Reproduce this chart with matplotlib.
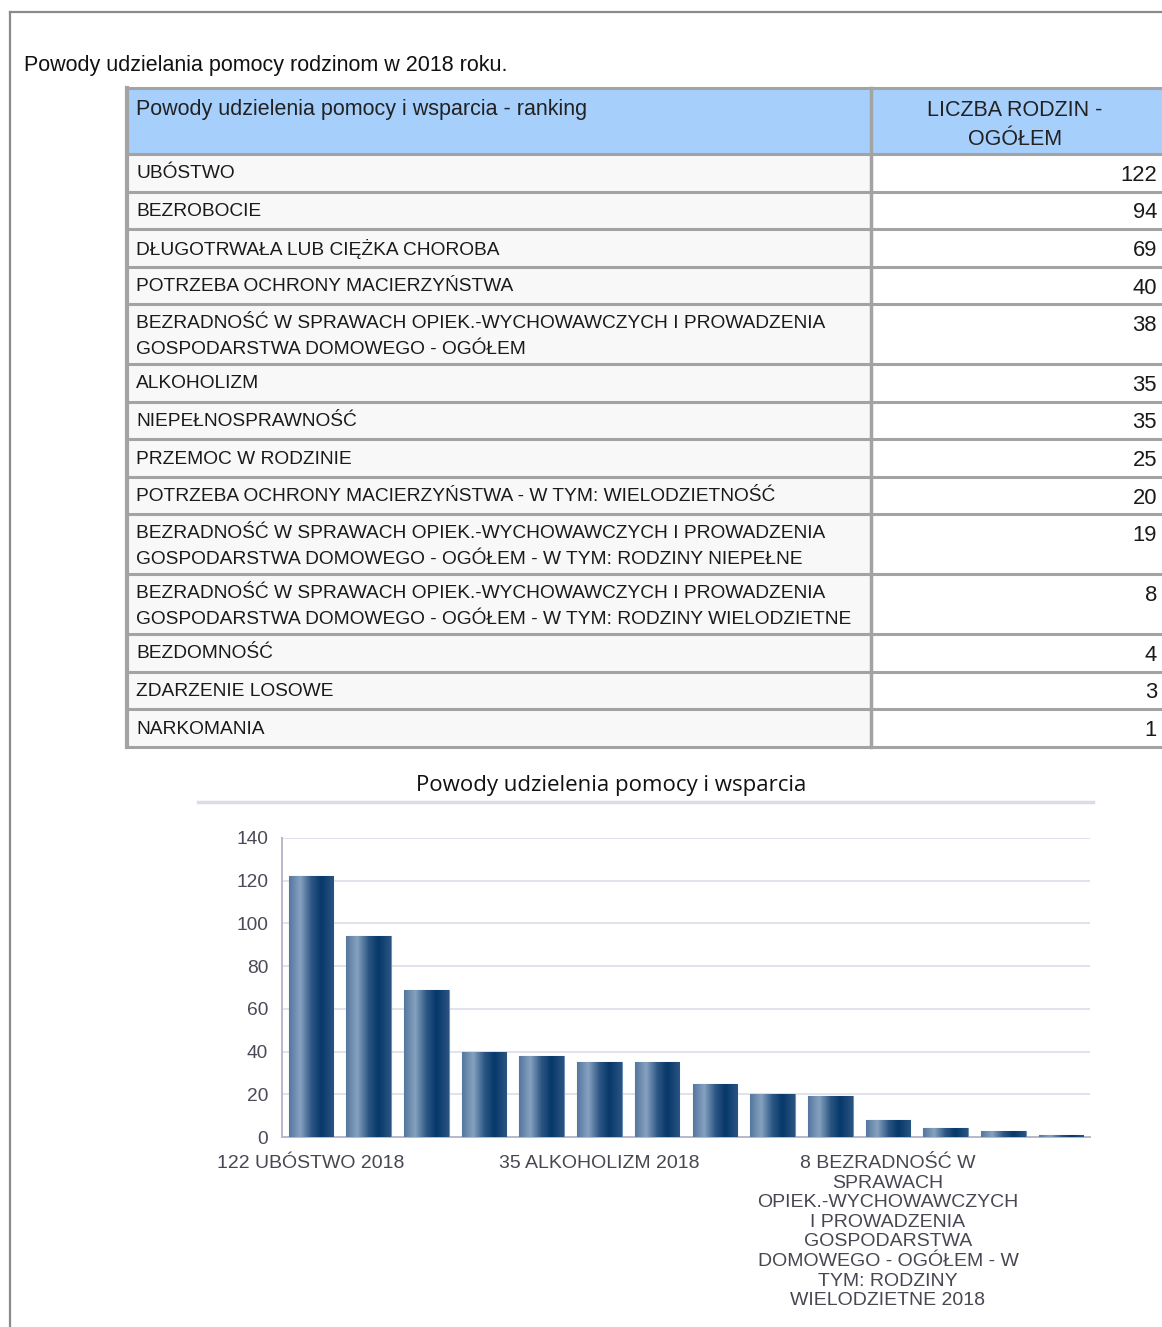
import matplotlib
matplotlib.use('Agg')
import matplotlib.pyplot as plt
import numpy as np
from matplotlib.colors import LinearSegmentedColormap
from matplotlib.patches import Rectangle

plt.rcParams['font.family'] = ['Liberation Sans', 'DejaVu Sans']

# ---- dane ----
PAGE_TITLE = 'Powody udzielania pomocy rodzinom w 2018 roku.'
HEAD_LEFT = 'Powody udzielenia pomocy i wsparcia - ranking'
HEAD_RIGHT = 'LICZBA RODZIN -\nOGÓŁEM'
CHART_TITLE = 'Powody udzielenia pomocy i wsparcia'

row_labels = [
    'UBÓSTWO',
    'BEZROBOCIE',
    'DŁUGOTRWAŁA LUB CIĘŻKA CHOROBA',
    'POTRZEBA OCHRONY MACIERZYŃSTWA',
    'BEZRADNOŚĆ W SPRAWACH OPIEK.-WYCHOWAWCZYCH I PROWADZENIA\nGOSPODARSTWA DOMOWEGO - OGÓŁEM',
    'ALKOHOLIZM',
    'NIEPEŁNOSPRAWNOŚĆ',
    'PRZEMOC W RODZINIE',
    'POTRZEBA OCHRONY MACIERZYŃSTWA - W TYM: WIELODZIETNOŚĆ',
    'BEZRADNOŚĆ W SPRAWACH OPIEK.-WYCHOWAWCZYCH I PROWADZENIA\nGOSPODARSTWA DOMOWEGO - OGÓŁEM - W TYM: RODZINY NIEPEŁNE',
    'BEZRADNOŚĆ W SPRAWACH OPIEK.-WYCHOWAWCZYCH I PROWADZENIA\nGOSPODARSTWA DOMOWEGO - OGÓŁEM - W TYM: RODZINY WIELODZIETNE',
    'BEZDOMNOŚĆ',
    'ZDARZENIE LOSOWE',
    'NARKOMANIA',
]
values = [122, 94, 69, 40, 38, 35, 35, 25, 20, 19, 8, 4, 3, 1]

tick_idx = [0, 5, 10]
tick_labels = [
    '122 UBÓSTWO 2018',
    '35 ALKOHOLIZM 2018',
    '8 BEZRADNOŚĆ W\nSPRAWACH\nOPIEK.-WYCHOWAWCZYCH\nI PROWADZENIA\nGOSPODARSTWA\n'
    'DOMOWEGO - OGÓŁEM - W\nTYM: RODZINY\nWIELODZIETNE 2018',
]
y_ticks = [0, 20, 40, 60, 80, 100, 120, 140]

W, H = 1162, 1327
fig = plt.figure(figsize=(W / 100, H / 100), dpi=100)
page = fig.add_axes([0, 0, 1, 1])
page.set_xlim(0, W)
page.set_ylim(H, 0)
page.axis('off')

# ramka strony
page.plot([10, W], [12, 12], color='#8a8a8a', lw=1.6)
page.plot([10, 10], [12, H], color='#8a8a8a', lw=1.6)

page.text(24, 66, PAGE_TITLE, fontsize=15.5, va='center', ha='left', color='#111111')

# ---- tabela ----
x_l, x_m, x_r = 127, 871, 1175
top = 88
head_h = 66
line_gap = 26
grid_c = '#a3a3a3'

page.add_patch(Rectangle((x_l, top), x_r - x_l, head_h, facecolor='#a6cffc', edgecolor='none'))
page.text(136, top + 22, HEAD_LEFT, fontsize=15.5, va='center', ha='left', color='#222222')
page.text(1015, top + 37, HEAD_RIGHT, fontsize=15.5, va='center', ha='center',
          color='#222222', linespacing=1.45)

y = top + head_h
hlines = [top, y]
for lab, val in zip(row_labels, values):
    n = lab.count('\n') + 1
    h = 37.5 if n == 1 else 60
    page.add_patch(Rectangle((x_l, y), x_m - x_l, h, facecolor='#f8f8f8', edgecolor='none'))
    for k, part in enumerate(lab.split('\n')):
        page.text(136, y + 20 + k * line_gap, part, fontsize=13.8, va='center',
                  ha='left', color='#1a1a1a')
    page.text(1157, y + 21.5, str(val), fontsize=15.8, va='center', ha='right', color='#1a1a1a')
    y += h
    hlines.append(y)

for yy in hlines:
    page.plot([x_l, x_r], [yy, yy], color=grid_c, lw=2.2, solid_capstyle='butt')
page.plot([x_l, x_l], [top, y], color=grid_c, lw=3)
page.plot([x_m, x_m], [top, y], color=grid_c, lw=2.5)

# ---- wykres ----
page.text(611, 786, CHART_TITLE, fontsize=16, family=['Open Sans', 'DejaVu Sans'],
          va='center', ha='center', color='#111111')
page.plot([198, 1093], [802, 802], color='#dcdce6', lw=2.5)

ax_l, ax_r, ax_t, ax_b = 282, 1090, 838, 1137
ax = fig.add_axes([ax_l / W, 1 - ax_b / H, (ax_r - ax_l) / W, (ax_b - ax_t) / H])
ax.set_facecolor('none')

cmap = LinearSegmentedColormap.from_list('bar', [
    (0.0, '#54769e'), (0.25, '#87a2c0'), (0.5, '#2c5784'),
    (0.72, '#063869'), (1.0, '#2a5482')])

x = np.arange(len(values))
bars = ax.bar(x, values, width=0.77, color='#1d4a7a', edgecolor='#6f8fb3',
              linewidth=0.8, zorder=3)
grad = np.linspace(0, 1, 256).reshape(1, -1)
for b in bars:
    im = ax.imshow(grad, extent=[b.get_x(), b.get_x() + b.get_width(), 0, b.get_height()],
                   aspect='auto', cmap=cmap, zorder=3.5, interpolation='bicubic')
    im.set_clip_path(b)

ax.set_xlim(-0.5, len(values) - 0.5)
ax.set_ylim(0, 140)
ax.set_yticks(y_ticks)
ax.tick_params(axis='y', length=0, pad=10, labelsize=13.8, labelcolor='#4a4a58')
ax.set_xticks(x[tick_idx])
ax.set_xticklabels(tick_labels, fontsize=14, color='#474752', linespacing=1.2)
ax.tick_params(axis='x', length=0, pad=13)
ax.grid(axis='y', color='#e2e2ec', lw=1.4, zorder=0)
ax.set_axisbelow(True)
for s in ['top', 'right']:
    ax.spines[s].set_visible(False)
ax.spines['left'].set_color('#b8b8cc')
ax.spines['bottom'].set_color('#b8b8cc')
ax.spines['left'].set_linewidth(1.4)
ax.spines['bottom'].set_linewidth(1.4)

fig.savefig('out.png', dpi=100)
